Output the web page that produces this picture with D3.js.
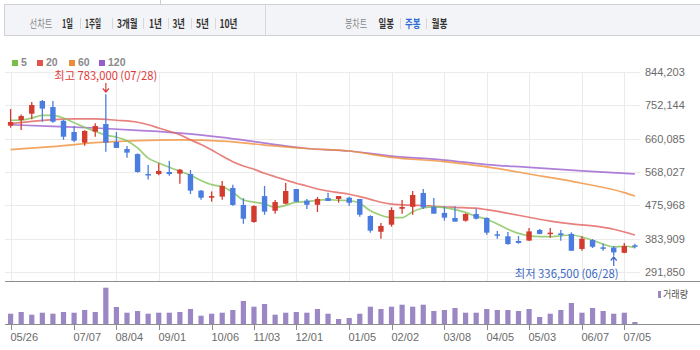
<!DOCTYPE html>
<html><head><meta charset="utf-8">
<script src="https://cdn.jsdelivr.net/npm/d3@7"></script>
<style>
html,body{margin:0;padding:0;background:#fff;}
svg{display:block;font-family:"Liberation Sans",Arial,"Noto Sans CJK KR",sans-serif;}
</style></head><body>
<svg id="c" width="700" height="350"></svg>
<script>
// ---------- DATA ----------
const tickIdx    = [0, 6, 10, 14, 19, 23, 27, 32, 36, 41, 45, 49, 54, 58];
const tickLabels = ["05/26","07/07","08/04","09/01","10/06","11/03","12/01","01/05","02/02","03/08","04/05","05/03","06/07","07/05"];
const yTicks = [291850, 383909, 475968, 568027, 660085, 752144, 844203];

const opens  = [696000,711500,729000,764000,747500,709500,678500,649000,679500,700500,651000,631500,617500,562500,562500,568000,563500,562500,516500,497000,
                500000,524000,477000,430000,501500,461000,480500,521000,489000,477500,496000,493500,497000,493500,446500,403000,422500,466500,472000,510000,
                471500,455000,441000,433500,452000,441000,396000,390500,377500,378500,408000,397500,398500,397000,355500,380000,360000,359000,345000,365500];
const highs  = [742000,726500,761500,767000,764000,711500,695000,683000,702500,783000,678500,640000,619500,587500,592000,598500,576500,573500,518500,514500,
                543000,533000,496000,476000,529500,490500,537500,521000,493500,499000,511000,501500,500000,493500,448500,427000,470500,490500,515500,521000,
                496000,473500,473500,454000,466500,443000,405000,402500,391500,413500,410500,413500,408000,401500,390500,383000,370000,363500,372000,370000];
const lows   = [690500,684000,713500,707000,704000,657000,651000,640500,665500,624000,634500,607500,566000,547000,559000,558000,535500,507500,491500,486000,
                491500,475000,425000,428000,450000,453000,479000,484500,466000,457500,488000,483000,475000,444500,400500,384000,417000,453000,450000,466000,
                453000,433500,431000,431000,436500,395000,384000,367000,370000,378500,396000,386500,378500,350500,350500,358000,350500,336500,343500,357500];
const closes = [706000,722500,753000,743000,707000,665500,654500,681500,695000,649000,634500,621500,568000,560000,571000,562500,574500,516500,497000,501500,
                529500,477000,439000,474000,458500,485000,515500,486000,477500,493500,488000,501500,483000,450000,406000,419000,463000,471500,504500,470000,
                453000,442000,431000,452000,439000,400500,392000,369000,372000,404000,397000,400500,394000,350500,384000,361500,357500,346000,363500,363000];
const volumes = [103,120,93,113,103,120,113,140,120,363,170,113,130,103,113,113,120,150,83,103,
                 113,140,230,173,200,93,113,120,113,150,103,50,60,103,173,150,173,193,173,193,
                 130,140,160,113,113,150,140,140,130,150,70,103,140,210,113,160,130,103,113,20];

const ma5 = [711000,711500,717000,724500,724500,717000,704000,691500,680500,670000,664500,654500,634500,606500,593000,581000,570000,559000,544500,533000,
             527500,512000,490500,485000,479500,470500,476000,485000,486000,490000,491500,490000,489000,481500,461000,448500,442000,442000,458500,468500,
             471500,469500,464000,456500,445500,437500,424500,410000,398500,391500,389500,389500,392000,394000,388500,379500,369000,361000,363000,359000];
const ma20Idx = [0,2,4,6,8,10,12,13,14,15,16,17,18,19,20,21,22,23,24,25,26,27,28,29,30,31,32,33,34,35,36,37,38,39,40,42,44,45,47,49,51,53,55,57,59];
const ma20    = [701500,708000,712500,714500,715000,711000,705500,698500,689500,680500,671000,657000,644000,629000,612000,596500,584500,575500,564500,555000,
                 546000,537000,529500,521000,515500,511000,506500,500000,492500,484500,479500,477500,476000,475500,473500,470500,468000,464000,454000,443000,
                 432500,424500,419000,410000,394000];
const ma60Idx = [0,4,8,12,16,20,24,28,32,36,41,45,49,54,58,59];
const ma60    = [630000,638000,649000,654500,656500,653500,642500,633000,626000,608500,596500,582000,562500,537000,511000,501500];
const ma120Idx = [0,4,8,12,16,20,24,28,32,36,41,45,49,54,59];
const ma120    = [698500,694000,689500,683000,675500,663500,648000,633000,626000,612000,601000,588500,581000,571000,562500];

const maxIdx = 9, maxLabel = "최고 783,000 (07/28)";
const minIdx = 57, minLabel = "최저 336,500 (06/28)";

// ---------- DRAW ----------
const svg = d3.select("#c");
const PL = 5, PR = 640;
const x = d3.scaleLinear().domain([0, 58]).range([10.6, 624.3]);
const y = d3.scaleLinear().domain([yTicks[0], yTicks[yTicks.length-1]]).range([272, 72]);
const yv = d3.scaleLinear().domain([0, 400]).range([324, 284]);

const UP = "#d33b2f", DOWN = "#4a7ddf";

// fit text to a width by horizontal scaling
function fitText(g, str, x0, y0, w, attrs){
  const t = g.append("text").attr("x",0).attr("y",0).text(str);
  Object.entries(attrs).forEach(([k,v]) => t.attr(k,v));
  const w0 = t.node().getComputedTextLength() || w;
  t.attr("transform", `translate(${x0},${y0}) scale(${w/w0},1)`);
  return t;
}

// top bar
const tb = svg.append("g");
tb.append("line").attr("x1",160.5).attr("x2",160.5).attr("y1",0).attr("y2",4).attr("stroke","#ccc");
tb.append("rect").attr("x",4.5).attr("y",4.5).attr("width",700).attr("height",31).attr("fill","#f3f4f7").attr("stroke","#cfd1d6");
tb.append("line").attr("x1",265.5).attr("x2",265.5).attr("y1",5).attr("y2",35).attr("stroke","#d6d8dc");
const tItems = [
  {t:"선차트",x:29.5,w:23,c:"#8a8a8a",b:false},
  {t:"1일",x:62,w:11,c:"#333",b:true},
  {t:"1주일",x:85,w:16,c:"#333",b:true},
  {t:"3개월",x:117,w:20.5,c:"#333",b:true},
  {t:"1년",x:149,w:13,c:"#333",b:true},
  {t:"3년",x:172.5,w:12.5,c:"#333",b:true},
  {t:"5년",x:196,w:13,c:"#333",b:true},
  {t:"10년",x:219.5,w:18,c:"#333",b:true},
  {t:"봉차트",x:345,w:22,c:"#8a8a8a",b:false},
  {t:"일봉",x:378.5,w:15.5,c:"#333",b:true},
  {t:"주봉",x:405,w:15.5,c:"#2d6bd6",b:true},
  {t:"월봉",x:431.5,w:16,c:"#333",b:true}
];
tItems.forEach(d => {
  fitText(tb, d.t, d.x, 27.5, d.w, {
    "font-family":"'Noto Sans CJK KR',sans-serif", "font-size":11.5,
    "font-weight":d.b?"bold":"normal", "fill":d.c});
});
[80,111.7,143.3,167.7,191,215,400,426].forEach(sx => {
  tb.append("line").attr("x1",Math.round(sx)+0.5).attr("x2",Math.round(sx)+0.5).attr("y1",18).attr("y2",29).attr("stroke","#d8d8d8");
});

// legend
const legend = [{t:"5",c:"#78bf4a",x:12},{t:"20",c:"#e0554f",x:37},{t:"60",c:"#ec8b3a",x:69},{t:"120",c:"#955fcb",x:99}];
legend.forEach(d => {
  svg.append("rect").attr("x",d.x).attr("y",60).attr("width",6).attr("height",6).attr("fill",d.c);
  svg.append("text").attr("x",d.x+9).attr("y",66).text(d.t).attr("font-size",10.5).attr("font-weight","bold").attr("fill","#8a8a8a");
});

// grid
const grid = svg.append("g");
yTicks.forEach(v => {
  const yy = Math.round(y(v)) + 0.5;
  grid.append("line").attr("x1",PL).attr("x2",PR).attr("y1",yy).attr("y2",yy).attr("stroke","#ebebeb");
});
tickIdx.forEach(i => {
  const xx = Math.round(x(i)) + 0.5;
  grid.append("line").attr("x1",xx).attr("x2",xx).attr("y1",72).attr("y2",281).attr("stroke","#ebebeb");
});

// y axis labels
yTicks.forEach(v => {
  svg.append("text").attr("x",645).attr("y",y(v)+4).text(d3.format(",")(v))
    .attr("font-size",11).attr("fill","#6b6b6b");
});

// MA lines
function maLine(idx, vals, color, curve){
  const pts = idx.map((k,j) => [x(k), y(vals[j])]);
  svg.append("path").attr("d", d3.line().curve(curve)(pts))
    .attr("fill","none").attr("stroke",color).attr("stroke-width",1.7).attr("stroke-opacity",0.8);
}
maLine(ma120Idx, ma120, "#9b5fd0", d3.curveMonotoneX);
maLine(ma60Idx, ma60, "#f0903a", d3.curveMonotoneX);
maLine(ma20Idx, ma20, "#e2605c", d3.curveMonotoneX);
maLine(d3.range(ma5.length), ma5, "#83c35a", d3.curveMonotoneX);

// candles
const cg = svg.append("g");
opens.forEach((o,i) => {
  const c = closes[i], col = c >= o ? UP : DOWN;
  const cx = x(i);
  cg.append("line").attr("x1",cx).attr("x2",cx).attr("y1",y(highs[i])).attr("y2",y(lows[i]))
    .attr("stroke",col).attr("stroke-width",1.3);
  const top = y(Math.max(o,c)), bot = y(Math.min(o,c));
  cg.append("rect").attr("x",cx-2.7).attr("width",5.4).attr("y",top)
    .attr("height",Math.max(1.5, bot-top)).attr("fill",col);
});

// max / min annotations
const mx = x(maxIdx);
fitText(svg, maxLabel, mx-51.5, 80, 103, {"font-family":"'Noto Sans CJK KR',sans-serif","font-size":11.5,"fill":"#e03a3a"});
svg.append("path").attr("d",`M${mx},83V92M${mx-3},88.5L${mx},92L${mx+3},88.5`)
  .attr("fill","none").attr("stroke","#e03a3a").attr("stroke-width",1.2);
const nx = x(minIdx);
fitText(svg, minLabel, nx+5-104, 277.5, 104, {"font-family":"'Noto Sans CJK KR',sans-serif","font-size":11.5,"fill":"#3a67c4"});
svg.append("path").attr("d",`M${nx},266V257M${nx-3},260.5L${nx},257L${nx+3},260.5`)
  .attr("fill","none").attr("stroke","#3a67c4").attr("stroke-width",1.2);

// panel borders
svg.append("line").attr("x1",PL).attr("x2",700).attr("y1",281.5).attr("y2",281.5).attr("stroke","#8c8c8c");

// volume
const vg = svg.append("g");
volumes.forEach((v,i) => {
  vg.append("rect").attr("x",x(i)-2.6).attr("width",5.2).attr("y",yv(v)).attr("height",324-yv(v)).attr("fill","#9a87c4");
});
svg.append("line").attr("x1",PL).attr("x2",700).attr("y1",324.5).attr("y2",324.5).attr("stroke","#8c8c8c");
tickIdx.forEach((i,j) => {
  const xx = Math.round(x(i)) + 0.5;
  svg.append("line").attr("x1",xx).attr("x2",xx).attr("y1",325).attr("y2",330).attr("stroke","#8c8c8c");
  svg.append("text").attr("x",xx-1).attr("y",341).text(tickLabels[j]).attr("font-size",11).attr("fill","#6b6b6b");
});
svg.append("rect").attr("x",658).attr("y",291).attr("width",3).attr("height",7).attr("fill","#9a87c4");
fitText(svg, "거래량", 663, 298, 25, {"font-family":"'Noto Sans CJK KR',sans-serif","font-size":10.5,"fill":"#555"});
</script>
</body></html>
